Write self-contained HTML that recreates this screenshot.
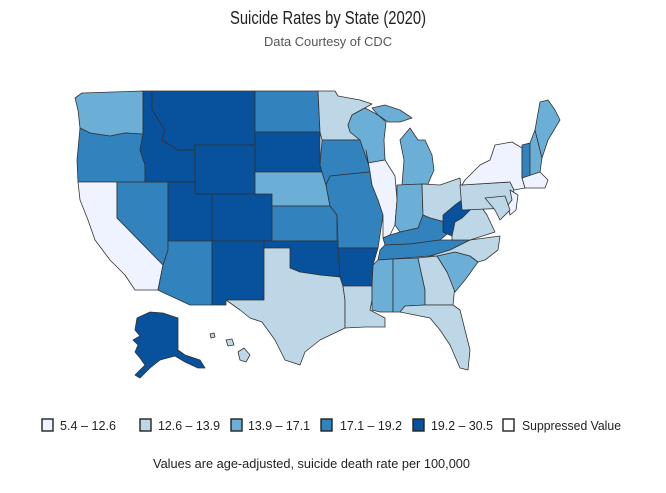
<!DOCTYPE html>
<html><head><meta charset="utf-8"><style>
html,body{margin:0;padding:0;background:#fff;}
body{width:666px;height:488px;position:relative;overflow:hidden;font-family:"Liberation Sans",sans-serif;}
</style></head><body>
<svg width="666" height="488" viewBox="0 0 666 488" xmlns="http://www.w3.org/2000/svg">
<text x="328" y="24" text-anchor="middle" font-family="Liberation Sans, sans-serif" font-size="18" fill="#222" textLength="130" lengthAdjust="spacingAndGlyphs" dx="0" style="display:none">x</text>
<text x="328" y="24" text-anchor="middle" font-family="Liberation Sans, sans-serif" font-size="18" fill="#222" textLength="196" lengthAdjust="spacingAndGlyphs">Suicide Rates by State (2020)</text>
<text x="328" y="46" text-anchor="middle" font-family="Liberation Sans, sans-serif" font-size="13" fill="#555" textLength="128" lengthAdjust="spacingAndGlyphs">Data Courtesy of CDC</text>
<g stroke="#333" stroke-width="0.8" stroke-linejoin="round">
<polygon fill="#6baed6" points="75,98 82,93 143,91 143,134 125,133 110,136 90,133 80,128 78,110"/>
<polygon fill="#3182bd" points="80,128 90,133 110,136 125,133 143,134 140,150 145,165 145,182 78,182 77,160"/>
<polygon fill="#eff3ff" points="78,182 117,182 117,218 163,265 160,280 158,290 135,290 125,275 110,260 95,240 88,220 80,200"/>
<polygon fill="#3182bd" points="117,182 168,182 168,250 163,265 117,218"/>
<polygon fill="#08519c" points="143,91 152,91 152,110 165,130 162,140 178,150 195,150 195,182 145,182 145,165 140,150 143,134"/>
<polygon fill="#08519c" points="152,91 255,91 255,145 195,145 195,150 178,150 162,140 165,130 152,110"/>
<polygon fill="#08519c" points="195,145 255,145 255,194 195,194"/>
<polygon fill="#08519c" points="168,182 195,182 195,194 212,194 212,241 168,241"/>
<polygon fill="#3182bd" points="168,241 212,241 212,305 190,305 162,292 158,290 160,280 163,265 168,250"/>
<polygon fill="#08519c" points="212,194 272,194 272,241 212,241"/>
<polygon fill="#08519c" points="212,241 264,241 264,300 226,300 226,305 212,305"/>
<polygon fill="#3182bd" points="255,91 318,91 320,132 255,132"/>
<polygon fill="#08519c" points="255,132 320,132 320,165 322,172 255,172"/>
<polygon fill="#6baed6" points="255,172 322,172 326,185 330,206 272,206 272,194 255,194"/>
<polygon fill="#3182bd" points="272,206 330,206 337,215 337,241 272,241"/>
<polygon fill="#08519c" points="264,241 338,241 340,277 320,275 300,272 290,268 290,248 264,248"/>
<polygon fill="#bdd7e7" points="264,248 290,248 290,268 300,272 320,275 340,277 343,286 345,300 345,328 320,340 305,352 300,365 285,360 275,340 262,322 250,318 240,310 226,300 264,300"/>
<polygon fill="#bdd7e7" points="318,91 335,91 338,96 360,100 372,104 352,115 348,125 350,132 360,140 322,140 320,132"/>
<polygon fill="#3182bd" points="322,140 360,140 366,150 370,172 330,176 326,185 322,172 320,165"/>
<polygon fill="#3182bd" points="326,185 330,176 370,172 372,185 378,200 383,215 380,235 378,248 338,248 338,241 337,215 330,206"/>
<polygon fill="#08519c" points="338,248 378,248 373,265 372,286 343,286 340,277"/>
<polygon fill="#bdd7e7" points="343,286 372,286 372,300 370,310 385,318 385,327 365,327 345,328 345,300"/>
<polygon fill="#6baed6" points="352,115 365,108 378,115 386,122 384,140 385,160 368,163 360,140 350,132 348,125"/>
<polygon fill="#6baed6" points="372,108 385,105 400,110 412,118 400,122 388,122 378,115"/>
<polygon fill="#6baed6" points="400,140 410,128 418,140 425,140 432,155 434,170 428,184 402,185 404,160"/>
<polygon fill="#eff3ff" points="366,150 368,163 385,160 395,176 397,200 395,225 390,235 383,238 383,215 378,200 372,185 370,172"/>
<polygon fill="#6baed6" points="397,185 422,184 423,215 418,228 400,232 395,225 397,200"/>
<polygon fill="#bdd7e7" points="422,184 440,185 460,178 462,200 455,215 445,222 430,218 423,215"/>
<polygon fill="#3182bd" points="383,238 390,235 400,232 418,228 423,215 430,218 445,222 452,230 440,240 410,244 385,245"/>
<polygon fill="#3182bd" points="385,245 410,244 440,240 452,240 470,240 450,250 430,256 405,258 378,260 380,250"/>
<polygon fill="#6baed6" points="378,260 393,259 393,312 380,312 372,310 372,286 373,265"/>
<polygon fill="#6baed6" points="393,259 418,258 425,290 425,305 405,306 400,312 393,312"/>
<polygon fill="#bdd7e7" points="418,258 437,256 447,272 455,285 453,305 425,305 425,290"/>
<polygon fill="#bdd7e7" points="400,312 405,306 425,305 453,305 460,310 465,330 470,350 468,370 460,368 450,345 440,330 430,318 415,315"/>
<polygon fill="#6baed6" points="437,256 455,252 470,256 478,262 465,280 455,292 447,272"/>
<polygon fill="#bdd7e7" points="430,256 450,250 470,240 500,236 498,250 485,260 478,262 470,256 455,252 437,256"/>
<polygon fill="#bdd7e7" points="445,222 455,215 462,218 470,210 480,205 487,215 495,232 470,240 452,240 452,230"/>
<polygon fill="#08519c" points="443,215 455,205 462,200 465,190 470,200 485,198 480,205 470,210 462,218 455,222 452,236 443,232"/>
<polygon fill="#bdd7e7" points="460,185 510,182 514,190 510,208 462,210"/>
<polygon fill="#eff3ff" points="465,180 480,165 490,160 495,145 512,142 522,148 522,178 525,188 514,190 510,182 462,185"/>
<polygon fill="#eff3ff" points="510,190 518,195 516,210 510,215 508,205 512,200"/>
<polygon fill="#bdd7e7" points="485,198 505,196 510,210 500,220 495,210"/>
<polygon fill="#3182bd" points="522,145 530,143 530,176 522,178"/>
<polygon fill="#6baed6" points="530,143 535,130 542,158 540,172 530,176"/>
<polygon fill="#6baed6" points="535,130 540,102 548,100 555,110 560,120 548,140 542,158"/>
<polygon fill="#eff3ff" points="522,178 540,172 548,180 545,188 525,188"/>
<polygon fill="#08519c" points="137,318 150,312 163,313 178,318 178,350 185,355 200,360 205,368 198,368 185,362 175,356 160,360 150,368 140,378 135,375 145,365 140,358 135,352 138,345 133,340 140,336 135,330"/>
<polygon fill="#bdd7e7" points="238,352 244,348 250,355 246,362 240,360"/>
<polygon fill="#bdd7e7" points="226,340 232,339 234,345 228,346"/>
<polygon fill="#bdd7e7" points="210,334 214,333 215,337 211,338"/>
</g>
<g stroke="#222" stroke-width="1.4">
<rect x="42" y="419" width="11" height="12" fill="#eff3ff"/>
<rect x="140" y="419" width="11" height="12" fill="#bdd7e7"/>
<rect x="231" y="419" width="11" height="12" fill="#6baed6"/>
<rect x="321" y="419" width="11" height="12" fill="#3182bd"/>
<rect x="413" y="419" width="11" height="12" fill="#08519c"/>
<rect x="503" y="419" width="11" height="12" fill="#fff"/>
</g>
<g font-family="Liberation Sans, sans-serif" font-size="13" fill="#222" lengthAdjust="spacingAndGlyphs">
<text x="60" y="430" textLength="56" lengthAdjust="spacingAndGlyphs">5.4 – 12.6</text>
<text x="158" y="430" textLength="62" lengthAdjust="spacingAndGlyphs">12.6 – 13.9</text>
<text x="248" y="430" textLength="62" lengthAdjust="spacingAndGlyphs">13.9 – 17.1</text>
<text x="340" y="430" textLength="62" lengthAdjust="spacingAndGlyphs">17.1 – 19.2</text>
<text x="431" y="430" textLength="62" lengthAdjust="spacingAndGlyphs">19.2 – 30.5</text>
<text x="522" y="430" textLength="99" lengthAdjust="spacingAndGlyphs">Suppressed Value</text>
<text x="153" y="468" textLength="317" lengthAdjust="spacingAndGlyphs">Values are age-adjusted, suicide death rate per 100,000</text>
</g>
</svg>
</body></html>
